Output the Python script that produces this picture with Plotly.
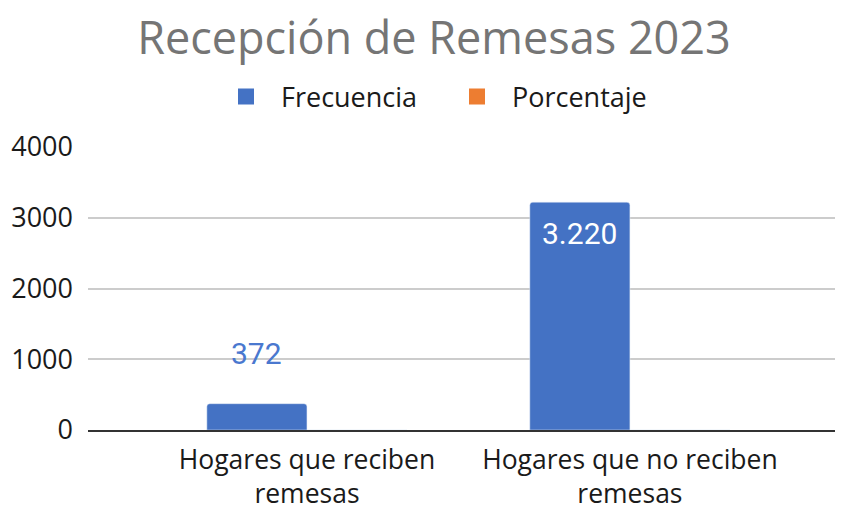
import plotly.graph_objects as go

# data
categorias = ["Hogares que reciben<br>remesas", "Hogares que no reciben<br>remesas"]
frecuencia = [372, 3220]
porcentaje = [0.10, 0.90]
y_ticks = [0, 1000, 2000, 3000, 4000]

AZUL = "#4472C4"
NARANJA = "#ED7D31"

# the html page adds an 8px body margin, so the figure is drawn 8px smaller
W, H = 840, 498

fig = go.Figure()
fig.add_trace(go.Bar(name="Frecuencia", x=categorias, y=frecuencia, marker_color=AZUL,
                     showlegend=False))
fig.add_trace(go.Bar(name="Porcentaje", x=categorias, y=porcentaje, marker_color=NARANJA,
                     showlegend=False))
# legend entries with bigger square swatches
for nombre, color in [("Frecuencia", AZUL), ("Porcentaje", NARANJA)]:
    fig.add_trace(go.Scatter(x=[None], y=[None], mode="markers", name=nombre,
                             marker=dict(symbol="square", size=16, color=color)))

# data labels: first above the bar, second inside near its top
fmt = lambda v: f"{v:,}".replace(",", ".")
fig.add_annotation(x=categorias[0], y=frecuencia[0], text=fmt(frecuencia[0]), xshift=-50,
                   yanchor="bottom", yshift=31, showarrow=False,
                   font=dict(family="Roboto", size=30, color="#4a78cf"))
fig.add_annotation(x=categorias[1], y=frecuencia[1], text=fmt(frecuencia[1]), xshift=-50,
                   yanchor="top", yshift=-12, showarrow=False,
                   font=dict(family="Roboto", size=30, color="white"))

fig.update_layout(
    width=W, height=H,
    margin=dict(l=80, r=13, t=139, b=76),
    paper_bgcolor="white", plot_bgcolor="white",
    font=dict(family="Open Sans", size=27, color="#1a1a1a"),
    title=dict(text="Recepción de Remesas 2023", x=426 / W, xanchor="center",
               y=1 - 30 / H, yanchor="middle", yref="container",
               font=dict(family="Open Sans", size=45, color="#757575")),
    legend=dict(orientation="h", x=434 / W, xanchor="center", y=1 - 89 / H, yanchor="middle",
                yref="container", xref="container", font=dict(size=27), itemwidth=60,
                itemsizing="trace", entrywidth=156, entrywidthmode="pixels"),
    barmode="group", bargap=0.38, bargroupgap=0, barcornerradius=3,
    xaxis=dict(range=[-0.678, 1.635], showline=True, linecolor="#333333", linewidth=2,
               ticks="", tickfont=dict(size=26.5), automargin=False, ticklabelstandoff=5),
    yaxis=dict(range=[0, 4000], tickvals=y_ticks, showgrid=True, gridcolor="#cccccc",
               gridwidth=1.5, zeroline=False, ticks="", tickfont=dict(size=27),
               ticklabelstandoff=14, automargin=False),
    showlegend=True,
)

fig.write_html("out.html")
